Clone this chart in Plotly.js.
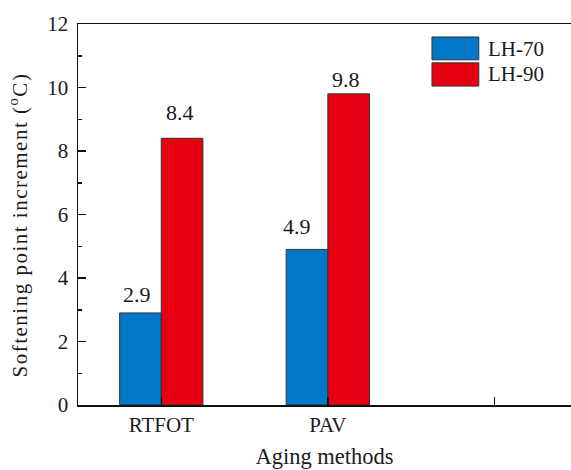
<!DOCTYPE html>
<html>
<head>
<meta charset="utf-8">
<script src="https://cdn.plot.ly/plotly-3.0.1.min.js"></script>
<style>
html,body{margin:0;padding:0;background:#fff;}
#chart{width:571px;height:470px;}
#chart g.annotation[data-index="4"] text{letter-spacing:1.5px;}
</style>
</head>
<body>
<div id="chart"></div>
<script>
const categories = ["RTFOT", "PAV"];
const tickLabels = ["RTFOT", "PAV"];
const seriesNames = ["LH-70", "LH-90"];
const lh70 = [2.9, 4.9];
const lh90 = [8.4, 9.8];
const yTitle = "Softening point increment (<sup>o</sup>C)";
const xTitle = "Aging methods";

const FONT = "'Liberation Serif', 'Times New Roman', serif";
const TXT = "#1a1a1a";
const colors = ["#0077C8", "#E60012"];

const idx = categories.map((c, i) => i);

const traces = [
  {type: "bar", name: seriesNames[0], x: idx, y: lh70,
   marker: {color: colors[0], line: {color: "#333333", width: 1}}, hoverinfo: "y"},
  {type: "bar", name: seriesNames[1], x: idx, y: lh90,
   marker: {color: colors[1], line: {color: "#333333", width: 1}}, hoverinfo: "y"}
];

// value labels above bars (hand-placed offsets as in the original)
const labelDX70 = [-24, -31], labelDY70 = [18, 23];
const labelDX90 = [19, 18],  labelDY90 = [26, 14];
const annotations = [];
idx.forEach(i => {
  annotations.push({x: i, y: lh70[i], xref: "x", yref: "y", text: lh70[i].toFixed(1),
    showarrow: false, xshift: labelDX70[i], yshift: labelDY70[i], yanchor: "middle",
    font: {family: FONT, size: 22, color: TXT}});
  annotations.push({x: i, y: lh90[i], xref: "x", yref: "y", text: lh90[i].toFixed(1),
    showarrow: false, xshift: labelDX90[i], yshift: labelDY90[i], yanchor: "middle",
    font: {family: FONT, size: 22, color: TXT}});
});

// y-axis title (index 4), placed slightly below the axis centre as in the original
annotations.push({xref: "paper", yref: "paper", x: -0.1217, y: 0.4724, text: yTitle,
  textangle: -90, xanchor: "center", yanchor: "middle", showarrow: false,
  font: {family: FONT, size: 21, color: TXT}});

// legend drawn as boxes + text
const legendBoxes = [[0.906, 0.966], [0.837, 0.898]];
const legendTextY = [0.934, 0.869];
const shapes = [];
seriesNames.forEach((n, k) => {
  shapes.push({type: "rect", xref: "paper", yref: "paper", x0: 0.718, x1: 0.813,
    y0: legendBoxes[k][0], y1: legendBoxes[k][1],
    fillcolor: colors[k], line: {color: "#333333", width: 1}});
  annotations.push({xref: "paper", yref: "paper", x: 0.828, y: legendTextY[k], text: n,
    xanchor: "left", yanchor: "middle", showarrow: false,
    font: {family: FONT, size: 21, color: TXT}});
});

const layout = {
  width: 571, height: 470,
  margin: {l: 78, r: 0, t: 24, b: 65, pad: 0},
  paper_bgcolor: "#ffffff", plot_bgcolor: "#ffffff",
  showlegend: false,
  barmode: "group", bargap: 0.5, bargroupgap: 0,
  font: {family: FONT, size: 21, color: TXT},
  xaxis: {
    range: [-0.5, 2.46], tickvals: [0, 1], ticktext: tickLabels,
    showgrid: false, zeroline: false, showline: true, linecolor: "#111", linewidth: 1.5,
    mirror: true, ticks: "inside", ticklen: 8, tickwidth: 1.5, tickcolor: "#111",
    minor: {tickvals: [2], ticks: "inside", ticklen: 8, tickwidth: 1.5, tickcolor: "#111", showgrid: false},
    tickfont: {family: FONT, size: 21, color: TXT},
    title: {text: xTitle, font: {family: FONT, size: 22.5, color: TXT}, standoff: 12}
  },
  yaxis: {
    range: [0, 12], tickvals: [0, 2, 4, 6, 8, 10, 12],
    showgrid: false, zeroline: false, showline: true, linecolor: "#111", linewidth: 1.5,
    ticks: "inside", ticklen: 8, tickwidth: 1.5, tickcolor: "#111",
    minor: {dtick: 1, ticks: "inside", ticklen: 4, tickwidth: 1.5, tickcolor: "#111", showgrid: false},
    tickfont: {family: FONT, size: 21, color: TXT},
    ticklabelstandoff: 4
  },
  annotations: annotations,
  shapes: shapes
};

Plotly.newPlot("chart", traces, layout, {displayModeBar: false, staticPlot: true});
</script>
</body>
</html>
